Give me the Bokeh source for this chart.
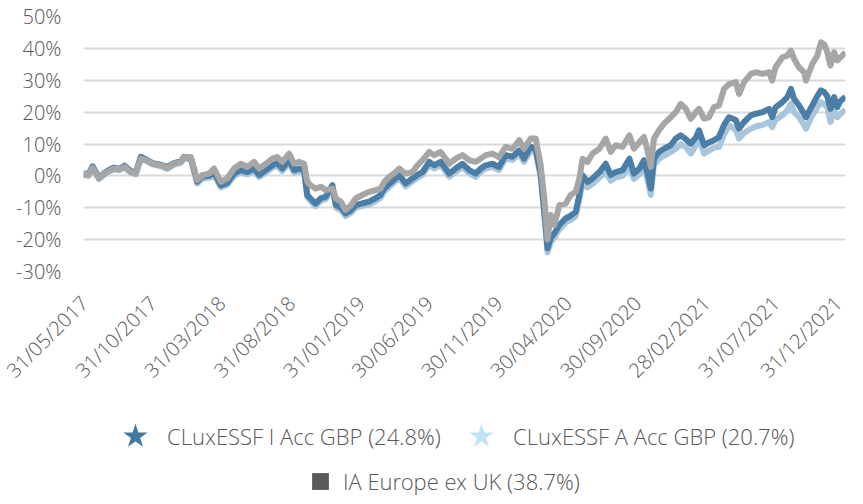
from math import pi
from datetime import datetime
import pandas as pd
from bokeh.plotting import figure
from bokeh.layouts import column
from bokeh.models import (Range1d, FixedTicker, DatetimeTickFormatter, PrintfTickFormatter,
                          Legend, LegendItem, ColumnDataSource)
from bokeh.embed import file_html
from bokeh.resources import INLINE

dates = [
    "2017-05-31", "2017-06-11", "2017-06-20", "2017-07-04", "2017-07-15", "2017-07-25", "2017-08-06",
    "2017-08-18", "2017-08-29", "2017-09-12", "2017-09-23", "2017-10-04", "2017-10-15", "2017-10-30",
    "2017-11-17", "2017-12-01", "2017-12-16", "2017-12-31",
    "2018-01-07", "2018-01-22", "2018-01-29", "2018-02-05", "2018-02-16", "2018-03-03", "2018-03-14",
    "2018-03-29", "2018-04-12", "2018-04-27", "2018-05-12", "2018-05-26", "2018-06-10", "2018-06-21",
    "2018-07-06", "2018-07-20", "2018-07-31", "2018-08-11", "2018-08-26", "2018-09-06", "2018-09-17",
    "2018-09-28", "2018-10-05", "2018-10-12", "2018-10-23", "2018-11-04", "2018-11-14", "2018-11-29",
    "2018-12-07", "2018-12-18", "2018-12-28",
    "2019-01-09", "2019-01-19", "2019-02-03", "2019-02-18", "2019-03-04", "2019-03-15", "2019-03-23",
    "2019-04-03", "2019-04-17", "2019-04-25", "2019-05-09", "2019-05-24", "2019-06-04", "2019-06-15",
    "2019-06-30", "2019-07-11", "2019-07-25", "2019-08-05", "2019-08-13", "2019-08-27", "2019-09-11",
    "2019-09-26", "2019-10-10", "2019-10-21", "2019-11-01", "2019-11-16", "2019-11-30", "2019-12-15",
    "2019-12-30",
    "2020-01-14", "2020-01-24", "2020-02-08", "2020-02-19", "2020-03-01", "2020-03-09", "2020-03-16",
    "2020-03-23", "2020-03-31", "2020-04-11", "2020-04-25", "2020-05-06", "2020-05-17", "2020-05-25",
    "2020-06-01", "2020-06-12", "2020-06-23", "2020-07-08", "2020-07-22", "2020-08-02", "2020-08-13",
    "2020-08-28", "2020-09-12", "2020-09-22", "2020-10-04", "2020-10-14", "2020-10-21", "2020-10-29",
    "2020-11-05", "2020-11-16", "2020-11-27", "2020-12-12", "2020-12-23",
    "2021-01-03", "2021-01-14", "2021-01-25", "2021-02-05", "2021-02-12", "2021-02-23", "2021-03-06",
    "2021-03-17", "2021-03-28", "2021-04-08", "2021-04-19", "2021-05-04", "2021-05-11", "2021-05-22",
    "2021-06-06", "2021-06-17", "2021-07-02", "2021-07-16", "2021-07-23", "2021-07-30", "2021-08-14",
    "2021-08-25", "2021-09-02", "2021-09-09", "2021-09-20", "2021-10-01", "2021-10-05", "2021-10-19",
    "2021-10-30", "2021-11-07", "2021-11-14", "2021-11-21", "2021-11-28", "2021-12-06", "2021-12-13",
    "2021-12-20", "2021-12-31",
]

# IA Europe ex UK (%)
ia_europe = [
    0.5, 0.3, 2.5, -0.8, 0.7, 1.5, 2.3, 2.0, 2.8, 1.2, 0.7, 5.4, 4.9, 3.8, 3.3, 2.5, 3.8, 4.4,
    5.9, 5.9, 2.3, -1.3, 0.2, 0.7, 2.3, -1.9, -0.8, 2.3, 3.8, 2.8, 4.4, 2.3, 3.8, 5.4, 5.9, 4.4,
    7.0, 3.8, 4.4, 3.8, -1.9, -2.9, -4.0, -3.4, -4.5, -4.0, -7.1, -8.1, -10.7,
    -9.2, -7.1, -6.0, -5.0, -4.5, -4.0, -1.9, -0.3, 1.2, 2.3, 0.7, 1.2, 3.3, 4.9, 7.5, 6.5, 7.5,
    5.4, 3.8, 5.4, 6.5, 4.9, 4.4, 5.4, 6.5, 7.0, 5.9, 9.1, 8.5,
    11.2, 8.5, 11.7, 11.7, 3.3, -7.1, -20.0, -12.3, -15.4, -9.2, -8.7, -6.0, -5.0, -0.8, 5.4, 4.4,
    7.0, 8.5, 11.7, 7.5, 9.6, 9.1, 12.7, 8.5, 10.6, 12.2, 8.5, 2.8, 11.7, 14.3, 16.4, 18.4, 20.0,
    22.6, 21.0, 17.9, 20.0, 21.0, 18.0, 18.4, 21.6, 22.1, 27.3, 28.8, 29.4, 25.7, 29.4, 32.0, 32.5,
    32.0, 32.5, 29.9, 34.0, 37.2, 37.7, 39.3, 36.7, 34.0, 32.5, 29.9, 35.1, 37.7, 41.9, 41.3, 38.8,
    34.6, 38.8, 36.2, 37.2, 38.7,
]

# CLuxESSF I Acc GBP (%)
i_acc = [
    0.8, 0.5, 3.0, -0.5, 0.8, 1.8, 2.6, 2.2, 3.2, 1.5, 1.0, 6.0, 5.2, 4.0, 3.5, 2.8, 4.0, 4.6,
    6.0, 5.7, 2.0, -1.8, -0.2, 0.0, 1.0, -3.0, -2.2, 0.7, 1.8, 1.2, 2.3, 0.3, 1.8, 3.3, 4.0, 2.3,
    4.9, 1.8, 2.3, 1.8, -6.0, -7.1, -8.7, -7.0, -6.6, -2.9, -9.2, -10.0, -11.8,
    -10.8, -9.2, -8.6, -8.1, -7.0, -6.0, -4.0, -2.5, -0.8, 0.3, -2.4, -0.8, 0.3, 1.2, 4.4, 3.3, 4.4,
    2.3, 0.7, 2.3, 3.8, 1.8, 0.7, 2.3, 3.3, 3.8, 2.8, 6.5, 6.0,
    8.0, 5.4, 9.1, 8.5, 0.5, -11.3, -22.7, -19.5, -18.0, -15.4, -13.3, -12.5, -11.3, -6.0, 0.2, -1.9,
    -0.8, 1.2, 3.8, 0.3, 1.2, 1.8, 5.4, 0.7, 2.3, 4.9, 1.2, -4.0, 5.4, 7.5, 8.5, 9.6, 11.7,
    12.7, 11.5, 10.1, 12.0, 14.3, 9.6, 10.5, 11.2, 12.2, 16.0, 18.4, 17.5, 14.8, 16.9, 19.0, 19.5,
    20.0, 21.0, 18.4, 21.5, 23.1, 24.7, 27.3, 24.2, 22.1, 19.5, 18.4, 22.1, 25.0, 26.8, 26.3, 25.0,
    21.0, 24.7, 21.6, 23.5, 24.8,
]

# CLuxESSF A Acc GBP (%)
a_acc = [
    0.3, 0.0, 2.5, -1.0, 0.3, 1.3, 2.1, 1.8, 2.7, 1.0, 0.5, 5.5, 4.8, 3.6, 3.0, 2.2, 3.5, 4.1,
    5.5, 5.0, 1.4, -2.4, -0.8, -0.6, 0.3, -3.6, -2.8, 0.0, 1.1, 0.5, 1.6, -0.4, 1.1, 2.6, 3.2, 1.5,
    4.1, 1.0, 1.5, 1.0, -6.8, -7.9, -9.5, -7.8, -7.4, -3.8, -10.0, -10.8, -12.6,
    -11.6, -10.0, -9.4, -9.0, -7.9, -6.9, -4.9, -3.4, -1.7, -0.6, -3.3, -1.7, -0.6, 0.3, 3.4, 2.3, 3.4,
    1.3, -0.3, 1.3, 2.8, 0.8, -0.3, 1.3, 2.3, 2.8, 1.8, 5.5, 5.0,
    7.0, 4.4, 8.0, 7.4, -0.6, -12.4, -24.0, -20.8, -19.3, -16.7, -14.6, -13.8, -12.6, -7.3, -1.5, -3.6,
    -2.5, -0.5, 1.2, -1.5, -0.5, 0.0, 2.8, -1.0, 0.5, 3.0, -0.5, -6.0, 3.5, 5.3, 6.3, 7.5, 8.5,
    10.0, 9.0, 7.0, 9.5, 11.7, 7.0, 8.0, 8.8, 9.1, 13.0, 15.8, 14.5, 11.7, 13.5, 14.8, 15.5,
    16.0, 16.9, 15.3, 17.5, 19.0, 20.5, 22.7, 20.0, 18.4, 16.0, 14.8, 19.0, 21.5, 23.1, 22.5, 21.6,
    16.9, 20.5, 18.4, 19.5, 20.7,
]

x_tick_dates = ["2017-05-31", "2017-10-31", "2018-03-31", "2018-08-31", "2019-01-31", "2019-06-30",
                "2019-11-30", "2020-04-30", "2020-09-30", "2021-02-28", "2021-07-31", "2021-12-31"]
y_ticks = [-30, -20, -10, 0, 10, 20, 30, 40, 50]

labels = ["CLuxESSF I Acc GBP (24.8%)", "CLuxESSF A Acc GBP (20.7%)", "IA Europe ex UK (38.7%)"]

FONT = "'Open Sans Light', 'Open Sans'"
TXT = "#595959"

src = ColumnDataSource(dict(date=pd.to_datetime(dates), ia=ia_europe, i=i_acc, a=a_acc))

p = figure(width=847, height=395, x_axis_type="datetime", output_backend="svg",
           toolbar_location=None,
           x_range=Range1d(datetime(2017, 5, 31), datetime(2021, 12, 31)),
           y_range=Range1d(-30, 50),
           min_border_left=83, min_border_right=2, min_border_top=16, min_border_bottom=124)
p.outline_line_color = None

p.line("date", "a", source=src, line_width=6, color="#a8c5dc", line_join="round")
p.line("date", "i", source=src, line_width=6, color="#4a7ea6", line_join="round")
p.line("date", "ia", source=src, line_width=6, color="#a6a6a6", line_join="round")

# axes
p.yaxis.ticker = FixedTicker(ticks=y_ticks)
p.yaxis.formatter = PrintfTickFormatter(format="%d%%")
p.xaxis.ticker = FixedTicker(ticks=[pd.Timestamp(d).value // 10**6 for d in x_tick_dates])
fmt = "%d/%m/%Y"
p.xaxis.formatter = DatetimeTickFormatter(milliseconds=fmt, seconds=fmt, minsec=fmt, minutes=fmt,
                                          hourmin=fmt, hours=fmt, days=fmt, months=fmt, years=fmt)
p.xaxis.major_label_orientation = pi / 4
for ax in (p.xaxis, p.yaxis):
    ax.axis_line_color = None
    ax.major_tick_line_color = None
    ax.minor_tick_line_color = None
    ax.major_tick_out = 0
    ax.major_tick_in = 0
    ax.major_label_text_font = FONT
    ax.major_label_text_color = TXT
p.xaxis.major_label_text_font_size = "20px"
p.yaxis.major_label_text_font_size = "20px"
p.yaxis.major_label_standoff = 22
p.xaxis.major_label_standoff = 28

p.xgrid.grid_line_color = None
p.ygrid.grid_line_color = "#d9d9d9"
p.ygrid.grid_line_width = 2

# legend panel
lg = figure(width=847, height=101, output_backend="svg", toolbar_location=None,
            x_axis_location=None, y_axis_location=None, min_border=0,
            x_range=Range1d(0, 1), y_range=Range1d(0, 1))
lg.outline_line_color = None
lg.grid.grid_line_color = None

# legend glyph renderers, placed outside the visible range
r1 = lg.scatter(x=[-5], y=[-5], marker="star", fill_color="#46799f", line_color=None)
r2 = lg.scatter(x=[-5], y=[-5], marker="star", fill_color="#c1e4f5", line_color=None)
r3 = lg.scatter(x=[-5], y=[-5], marker="square", fill_color="#595959", line_color=None)


def make_legend(label, rend, loc, gsize, standoff):
    return Legend(items=[LegendItem(label=label, renderers=[rend])], location=loc,
                  glyph_width=gsize, glyph_height=gsize, label_standoff=standoff,
                  padding=0, margin=0, spacing=0, border_line_color=None,
                  background_fill_alpha=0, label_text_font=FONT, label_text_font_size="22px",
                  label_text_color=TXT)


lg.add_layout(make_legend(labels[0], r1, (20, 28), 64, 0), "center")
lg.add_layout(make_legend(labels[1], r2, (366, 28), 64, 0), "center")
lg.add_layout(make_legend(labels[2], r3, (216, -6), 42, 2), "center")

open("out.html", "w").write(file_html(column(p, lg), INLINE))
